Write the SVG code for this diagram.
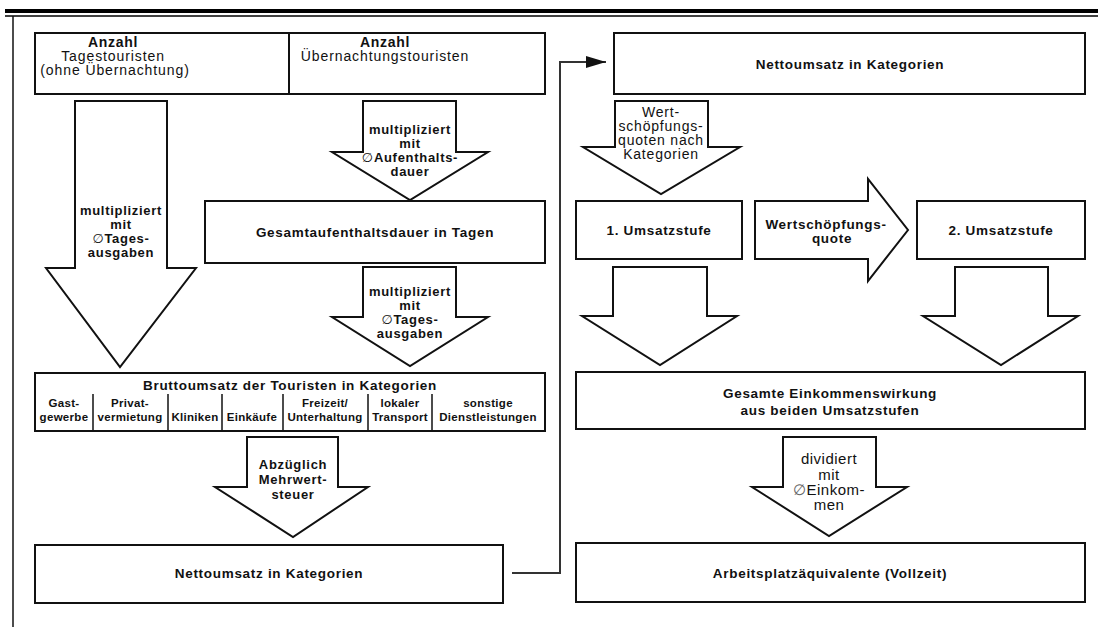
<svg xmlns="http://www.w3.org/2000/svg" width="1098" height="627" viewBox="0 0 1098 627">
<style>
.box{fill:#fff;stroke:#111;stroke-width:2}
.arr{fill:#fff;stroke:#111;stroke-width:2;stroke-linejoin:miter}
.t{font-family:"Liberation Sans",Arial,sans-serif;font-size:13.5px;font-weight:bold;text-anchor:middle;letter-spacing:0.7px;fill:#111}
.s{font-size:13px}
.r{font-weight:normal}
.c{font-family:"Liberation Sans",Arial,sans-serif;font-size:11.5px;font-weight:bold;text-anchor:middle;letter-spacing:0.3px;fill:#111}
.d{font-family:"DejaVu Sans",sans-serif;font-weight:normal}
.sep{stroke:#111;stroke-width:1.5}
.con{fill:none;stroke:#333;stroke-width:2}
</style>
<defs>
<marker id="ah" markerWidth="20" markerHeight="12" refX="20" refY="6" orient="auto" markerUnits="userSpaceOnUse">
<path d="M0,0 L20,6 L0,12 Z" fill="#111"/>
</marker>
</defs>
<rect x="5" y="9" width="1093" height="4" fill="#000"/>
<line x1="5" y1="16" x2="1098" y2="16" stroke="#000" stroke-width="1.5"/>
<line x1="13" y1="16" x2="13" y2="627" stroke="#111" stroke-width="1.5"/>

<g id="anzahl-tages">
<rect class="box" x="35" y="33" width="254" height="61"/>
<text class="t" style="font-size:14px" x="113" y="47">Anzahl</text>
<text class="t r" style="font-size:14px;letter-spacing:0.9px" x="113" y="61">Tagestouristen</text>
<text class="t r" style="font-size:14px;letter-spacing:0.9px" x="115" y="75">(ohne Übernachtung)</text>
</g>
<g id="anzahl-uebernacht">
<rect class="box" x="289" y="33" width="256" height="61"/>
<text class="t" style="font-size:14px" x="385" y="47">Anzahl</text>
<text class="t r" style="font-size:14px;letter-spacing:0.9px" x="385" y="61">Übernachtungstouristen</text>
</g>

<g id="arrow-tagesausgaben-left">
<polygon class="arr" points="75,101 167,101 167,268 196,268 120,367 46,268 75,268"/>
<text class="t s" x="121" y="215">multipliziert</text>
<text class="t s" x="121" y="229">mit</text>
<text class="t s" x="121" y="243"><tspan class="d">∅</tspan>Tages-</text>
<text class="t s" x="121" y="257">ausgaben</text>
</g>

<g id="arrow-aufenthalt">
<polygon class="arr" points="363,101 456,101 456,152 488,152 410,200 332,152 363,152"/>
<text class="t s" x="410" y="134">multipliziert</text>
<text class="t s" x="410" y="148">mit</text>
<text class="t s" x="410" y="162"><tspan class="d">∅</tspan>Aufenthalts-</text>
<text class="t s" x="410" y="176">dauer</text>
</g>

<g id="gesamtaufenthalt">
<rect class="box" x="205" y="201" width="340" height="62"/>
<text class="t" x="375" y="237">Gesamtaufenthaltsdauer in Tagen</text>
</g>

<g id="arrow-tagesausgaben-mid">
<polygon class="arr" points="363,267 456,267 456,317 488,317 410,366 332,317 363,317"/>
<text class="t s" x="410" y="296">multipliziert</text>
<text class="t s" x="410" y="310">mit</text>
<text class="t s" x="410" y="324"><tspan class="d">∅</tspan>Tages-</text>
<text class="t s" x="410" y="338">ausgaben</text>
</g>

<g id="bruttoumsatz">
<rect class="box" x="35" y="373" width="510" height="58"/>
<text class="t" x="290" y="390">Bruttoumsatz der Touristen in Kategorien</text>
<line class="sep" x1="93" y1="394" x2="93" y2="431"/>
<line class="sep" x1="168" y1="394" x2="168" y2="431"/>
<line class="sep" x1="222" y1="394" x2="222" y2="431"/>
<line class="sep" x1="283" y1="394" x2="283" y2="431"/>
<line class="sep" x1="368" y1="394" x2="368" y2="431"/>
<line class="sep" x1="432" y1="394" x2="432" y2="431"/>
<text class="c" x="64" y="407">Gast-</text>
<text class="c" x="64" y="421">gewerbe</text>
<text class="c" x="130" y="407">Privat-</text>
<text class="c" x="130" y="421">vermietung</text>
<text class="c" x="195" y="421">Kliniken</text>
<text class="c" x="252" y="421">Einkäufe</text>
<text class="c" x="325" y="407">Freizeit/</text>
<text class="c" x="325" y="421">Unterhaltung</text>
<text class="c" x="400" y="407">lokaler</text>
<text class="c" x="400" y="421">Transport</text>
<text class="c" x="488" y="407">sonstige</text>
<text class="c" x="488" y="421">Dienstleistungen</text>
</g>

<g id="arrow-mwst">
<polygon class="arr" points="247,437 338,437 338,487 368,487 293,537 215,487 247,487"/>
<text class="t s" x="293" y="469">Abzüglich</text>
<text class="t s" x="293" y="484">Mehrwert-</text>
<text class="t s" x="293" y="499">steuer</text>
</g>

<g id="netto-left">
<rect class="box" x="35" y="545" width="468" height="58"/>
<text class="t" x="269" y="578">Nettoumsatz in Kategorien</text>
</g>

<g id="connectors">
<polyline class="con" points="512,573 560,573 560,62 606,62" marker-end="url(#ah)"/>
</g>

<g id="netto-right">
<rect class="box" x="614" y="33" width="471" height="61"/>
<text class="t" x="850" y="69">Nettoumsatz in Kategorien</text>
</g>

<g id="arrow-wertschoepfung-kat">
<polygon class="arr" points="615,101 708,101 708,147 740,147 661,194 583,147 615,147"/>
<text class="t r" style="font-size:14px;letter-spacing:0.8px" x="661" y="117">Wert-</text>
<text class="t r" style="font-size:14px;letter-spacing:0.8px" x="661" y="131">schöpfungs-</text>
<text class="t r" style="font-size:14px;letter-spacing:0.8px" x="661" y="145">quoten nach</text>
<text class="t r" style="font-size:14px;letter-spacing:0.8px" x="661" y="159">Kategorien</text>
</g>

<g id="umsatzstufe1">
<rect class="box" x="576" y="201" width="166" height="58"/>
<text class="t" x="659" y="235">1. Umsatzstufe</text>
</g>

<g id="arrow-wertschoepfungsquote">
<polygon class="arr" points="755,201 868,201 868,179 908,230 868,281 868,259 755,259"/>
<text class="t" x="826" y="229">Wertschöpfungs-</text>
<text class="t" x="832" y="243">quote</text>
</g>

<g id="umsatzstufe2">
<rect class="box" x="917" y="201" width="168" height="58"/>
<text class="t" x="1001" y="235">2. Umsatzstufe</text>
</g>

<g id="arrow-stufe1-down">
<polygon class="arr" points="613,267 707,267 707,316 737,316 660,365 582,316 613,316"/>
</g>
<g id="arrow-stufe2-down">
<polygon class="arr" points="955,267 1048,267 1048,316 1078,316 1001,365 923,316 955,316"/>
</g>

<g id="einkommenswirkung">
<rect class="box" x="576" y="372" width="509" height="57"/>
<text class="t" x="830" y="398">Gesamte Einkommenswirkung</text>
<text class="t" x="830" y="415">aus beiden Umsatzstufen</text>
</g>

<g id="arrow-dividiert">
<polygon class="arr" points="783,437 876,437 876,487 907,487 829,536 752,487 783,487"/>
<text class="t r" style="font-size:15px;letter-spacing:0.5px" x="829" y="464">dividiert</text>
<text class="t r" style="font-size:15px;letter-spacing:0.5px" x="829" y="480">mit</text>
<text class="t r" style="font-size:15px;letter-spacing:0.5px" x="829" y="495"><tspan class="d" fill="#666">∅</tspan>Einkom-</text>
<text class="t r" style="font-size:15px;letter-spacing:0.5px" x="829" y="510">men</text>
</g>

<g id="arbeitsplatz">
<rect class="box" x="576" y="543" width="509" height="59"/>
<text class="t" x="830" y="578">Arbeitsplatzäquivalente (Vollzeit)</text>
</g>
</svg>
